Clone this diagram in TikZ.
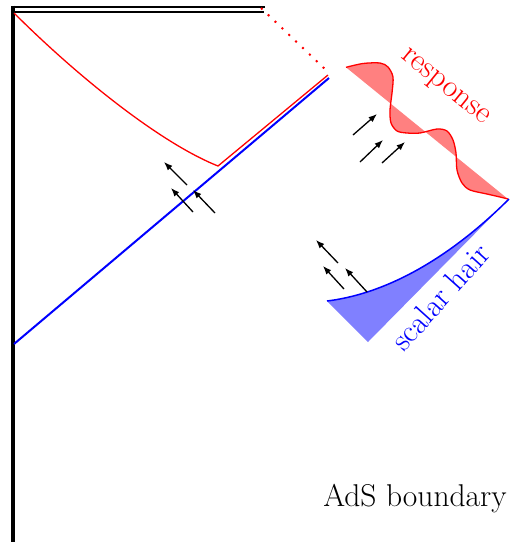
\documentclass[tikz,border=0pt]{standalone}
\usepackage{fontspec}
\setmainfont{Latin Modern Roman}
\usetikzlibrary{arrows.meta}
\begin{document}
\begin{tikzpicture}[x=1pt,y=-1pt,
  arr/.style={line width=1.3pt,-{Latex[length=8.5pt,width=6.5pt]}},
  lbl/.style={font=\fontsize{31.5}{34}\selectfont, inner sep=0pt}]
\useasboundingbox (0,0) rectangle (512,542);
% AdS boundary and singularity
\draw[line width=4pt] (13,5.5) -- (13,542);
\draw[line width=2pt] (11,7) -- (264.5,7);
\draw[line width=1.8pt] (15,12) -- (264,12);
% red dotted
\coordinate (dotA) at (261,8);
\coordinate (dotB) at (327,71);
\draw[red, line width=2pt, dash pattern=on 2pt off 7.5pt] (dotA) -- (dotB);
% horizon curve
\coordinate (hA) at (14,13);
\coordinate (hB) at (218,166);
\coordinate (hC) at (328,75);
\draw[red, line width=1.3pt] (hA) .. controls (74,73) and (158,142) .. (hB) -- (hC);
% blue shell
\coordinate (bA) at (14,344);
\coordinate (bB) at (329,78);
\draw[blue, line width=2pt] (bA) -- (bB);
% red response wave
\def\wave{(346,67.3) (363,63.5) (380,63) (388,67) (393,77) (392,93) (390,110) (391,123) (397,131) (407,133) (420,133) (437,129) (447,131) (453,140) (456,153) (457,170) (462,183) (470,190) (487,194) (500,197) (508,199)}
\fill[red!50] plot[smooth, tension=0.5] coordinates {\wave} -- cycle;
\draw[red, line width=1.3pt] plot[smooth, tension=0.5] coordinates {\wave};
% blue scalar hair
\coordinate (sA) at (509,199);
\coordinate (sB) at (327,301);
\coordinate (sC) at (368,342);
\fill[blue!50] (sA) .. controls (465,243) and (400,292) .. (sB) -- (sC) -- cycle;
\draw[blue, line width=1.5pt] (sA) .. controls (465,243) and (400,292) .. (sB);
% arrows
\draw[arr] (187,185) -- (164,162);
\draw[arr] (193,212) -- (171,188);
\draw[arr] (215,213) -- (193,190);
\draw[arr] (353,135) -- (377,114);
\draw[arr] (360,162) -- (383,140);
\draw[arr] (382,163) -- (405,142);
\draw[arr] (338,263) -- (316,240);
\draw[arr] (344,289) -- (323,266);
\draw[arr] (367,292) -- (345,268);
% labels
\node[lbl, red, rotate=-39] (resp) at (444,88) {response};
\node[lbl, blue, rotate=48] (hair) at (440,297) {scalar hair};
\node[lbl, anchor=base] (ads) at (415,506) {AdS boundary};
\end{tikzpicture}
\end{document}
